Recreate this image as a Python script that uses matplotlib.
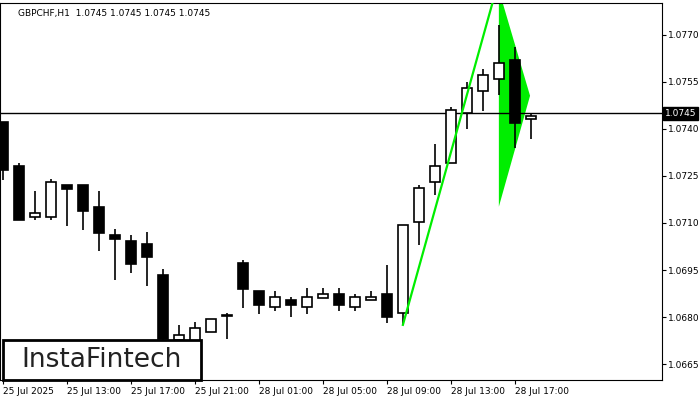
import matplotlib
matplotlib.use("Agg")
import matplotlib.pyplot as plt
from matplotlib.patches import Rectangle, Polygon

opens  = [1.07423,1.07282,1.07120,1.07120,1.07222,1.07222,1.07152,1.07062,1.07043,1.07034,1.06935,1.06727,1.06721,1.06753,1.06804,
          1.06973,1.06884,1.06833,1.06855,1.06833,1.06861,1.06874,1.06833,1.06855,1.06874,1.06814,1.07104,1.07230,1.07292,1.07452,1.07522,1.07560,1.07621,1.07432]
closes = [1.07270,1.07110,1.07133,1.07231,1.07209,1.07139,1.07069,1.07050,1.06970,1.06990,1.06731,1.06743,1.06766,1.06794,1.06804,
          1.06890,1.06839,1.06865,1.06839,1.06865,1.06874,1.06839,1.06865,1.06865,1.06801,1.07094,1.07212,1.07282,1.07461,1.07531,1.07573,1.07611,1.07420,1.07442]
highs  = [1.07423,1.07292,1.07203,1.07241,1.07222,1.07222,1.07203,1.07082,1.07062,1.07070,1.06954,1.06775,1.06785,1.06794,1.06814,
          1.06983,1.06884,1.06884,1.06865,1.06893,1.06893,1.06893,1.06874,1.06884,1.06967,1.07094,1.07222,1.07353,1.07471,1.07550,1.07592,1.07732,1.07662,1.07452]
lows   = [1.07238,1.07110,1.07110,1.07110,1.07091,1.07078,1.07011,1.06919,1.06941,1.06900,1.06727,1.06690,1.06721,1.06753,1.06730,
          1.06830,1.06810,1.06820,1.06801,1.06810,1.06861,1.06820,1.06820,1.06855,1.06782,1.06775,1.07030,1.07190,1.07292,1.07400,1.07458,1.07509,1.07340,1.07369]
tick_idx = [0,4,8,12,16,20,24,28,32]
tick_labels = ["25 Jul 2025","25 Jul 13:00","25 Jul 17:00","25 Jul 21:00","28 Jul 01:00","28 Jul 05:00","28 Jul 09:00","28 Jul 13:00","28 Jul 17:00"]
yticks = [1.0665,1.0680,1.0695,1.0710,1.0725,1.0740,1.0755,1.0770]
last_price = 1.0745
pole = ([25,30.6],[1.06775,1.07802])
pennant = [(31.0,1.07844),(32.95,1.07506),(31.0,1.07152)]

fig = plt.figure(figsize=(7,4), dpi=100)
ax = fig.add_axes([0, 0.05, 662/700, 0.9925-0.05])
ax.set_xlim(-0.19, 41.2)
ax.set_ylim(1.06599, 1.07802)
w = 0.6
for i,(o,c,h,l) in enumerate(zip(opens,closes,highs,lows)):
    ax.vlines(i, l, h, color='black', lw=1.2, zorder=2)
    lo, hi = min(o,c), max(o,c)
    ax.add_patch(Rectangle((i-w/2, lo), w, max(hi-lo,0.00002), facecolor='black' if c<o else 'white',
                           edgecolor='black', lw=1.2, zorder=3))
ax.plot(*pole, color='#00ee00', lw=1.6, zorder=4)
ax.add_patch(Polygon(pennant, closed=True, facecolor='#00ee00', edgecolor='none', zorder=1))
ax.axhline(last_price, color='black', lw=1, zorder=1)
ax.yaxis.tick_right()
ax.set_yticks(yticks)
ax.set_yticklabels([f"{v:.4f}" for v in yticks], fontsize=6.5)
ax.set_xticks(tick_idx)
ax.set_xticklabels(tick_labels, fontsize=6.5, ha='left')
ax.tick_params(axis='x', length=3, pad=2)
ax.tick_params(axis='y', length=3, pad=1)
ax.annotate(f"{last_price:.4f}", xy=(1.0, last_price), xycoords=('axes fraction','data'),
            xytext=(2,0), textcoords='offset points', va='center', ha='left', fontsize=6.5, color='white',
            bbox=dict(boxstyle='square,pad=0.2', facecolor='black', edgecolor='black'), annotation_clip=False)
ax.text(0.027, 0.985, "GBPCHF,H1  1.0745 1.0745 1.0745 1.0745", transform=ax.transAxes, fontsize=6.5, va='top', ha='left')
fig.patches.append(Rectangle((3/700, 20/400), 198/700, 40/400, transform=fig.transFigure,
                             facecolor='white', edgecolor='black', lw=2, zorder=10))
fig.text(102/700, 40/400, "InstaFintech", fontsize=19, ha='center', va='center', color='#222222', zorder=11)
fig.savefig("out.png", dpi=100)
